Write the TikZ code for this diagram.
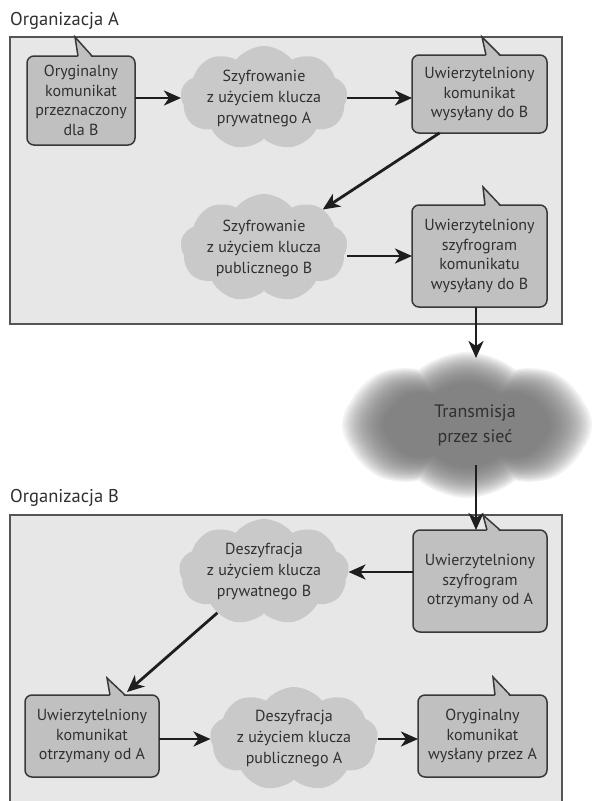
\documentclass[tikz,border=0pt]{standalone}
\usepackage{fontspec}
\setmainfont{PT Sans}
\usetikzlibrary{shapes.symbols,arrows.meta,calc}
\definecolor{boxfill}{HTML}{E7E7E7}
\definecolor{boxline}{HTML}{555555}
\definecolor{msgfill}{HTML}{C0C0C0}
\definecolor{msgline}{HTML}{383838}
\definecolor{cloudfill}{HTML}{C9C9C9}
\definecolor{txt}{HTML}{303030}
\definecolor{arrcol}{HTML}{1E1E1E}
\newcommand\callptr[4]{%
  \fill[msgfill] ($(#1.north west)+(#2,1.8)$) -- (#4) -- ($(#1.north west)+(#3,1.8)$) -- cycle;
  \draw[ptrline] ($(#1.north west)+(#2,0)$) -- (#4) -- ($(#1.north west)+(#3,0)$);}
\begin{document}
\begin{tikzpicture}[x=1pt,y=-1pt,
  orgbox/.style={draw=boxline, line width=1.6pt, fill=boxfill},
  orglabel/.style={anchor=base west, inner sep=0, text=txt, font=\fontsize{18.5}{22}\selectfont},
  msg/.style={draw=msgline, line width=1.5pt, fill=msgfill, rounded corners=7pt, align=center,
    text=txt, font=\fontsize{16}{19.5}\selectfont, inner sep=0, outer sep=0},
  ptrline/.style={draw=msgline, line width=1.5pt, line join=miter},
  lcloud/.style={cloud, cloud puffs=9, cloud puff arc=105, cloud ignores aspect, fill=cloudfill,
    draw=none, inner sep=0, outer sep=0},
  fcloud/.style={cloud, cloud puffs=8, cloud puff arc=80, cloud ignores aspect, fill=black!58,
    fill opacity=0.085, draw=none, inner sep=0, outer sep=0},
  ctext/.style={align=center, text=txt, font=\fontsize{16}{21}\selectfont, inner sep=0},
  ttext/.style={align=center, text=txt, font=\fontsize{18}{25}\selectfont, inner sep=0},
  arr/.style={draw=arrcol, line width=2.8pt, -{Stealth[length=17pt,width=15pt,inset=5pt]}}]
\useasboundingbox (0,0) rectangle (592,801);
\clip (0,0) rectangle (592,801);

% organisation boxes
\draw[orgbox] (10,37) rectangle (562,324);
\draw[orgbox] (10,515) rectangle (562,808);
\node[orglabel] (labA) at (10,25) {Organizacja A};
\node[orglabel] (labB) at (10,502) {Organizacja B};

% clouds
\node[lcloud, minimum width=167, minimum height=104] (c1) at (264,98) {};
\node[ctext] (c1t) at (c1.center) {Szyfrowanie\\z użyciem klucza\\prywatnego A};
\node[lcloud, minimum width=167, minimum height=108] (c2) at (264,248) {};
\node[ctext] (c2t) at (c2.center) {Szyfrowanie\\z użyciem klucza\\publicznego B};
\node[lcloud, minimum width=170, minimum height=106] (c3) at (264,572) {};
\node[ctext] (c3t) at (c3.center) {Deszyfracja\\z użyciem klucza\\prywatnego B};
\node[lcloud, minimum width=168, minimum height=104] (c4) at (294,739) {};
\node[ctext] (c4t) at (c4.center) {Deszyfracja\\z użyciem klucza\\publicznego A};

% transmission cloud (soft edges)
\foreach \i in {0,...,19} {
  \node[fcloud, minimum width=250-4.4*\i, minimum height=146-3.2*\i] at (467,425) {};
}
\node[ttext] (T) at (475,425) {Transmisja\\przez sieć};
\coordinate (tin) at (476,358);
\coordinate (tout) at (476,465);

% message boxes
\node[msg, minimum width=108, minimum height=89] (n1) at (81,100.5) {Oryginalny\\komunikat\\przeznaczony\\dla B};
\node[msg, minimum width=135, minimum height=78] (n2) at (479.5,94) {Uwierzytelniony\\komunikat\\wysyłany do B};
\node[msg, minimum width=135, minimum height=102] (n3) at (479.5,256) {Uwierzytelniony\\szyfrogram\\komunikatu\\wysyłany do B};
\node[msg, minimum width=134, minimum height=102] (n4) at (480,581) {Uwierzytelniony\\szyfrogram\\otrzymany od A};
\node[msg, minimum width=134, minimum height=82] (n5) at (92,736) {Uwierzytelniony\\komunikat\\otrzymany od A};
\node[msg, minimum width=129, minimum height=82] (n6) at (482.5,736) {Oryginalny\\komunikat\\wysłany przez A};

% callout pointers
\coordinate (p1) at (75,37);
\coordinate (p2) at (482,37);
\coordinate (p3) at (483,187);
\coordinate (p4) at (483,515);
\coordinate (p5) at (107,678);
\coordinate (p6) at (493,677);
\callptr{n1}{51}{65}{p1}
\callptr{n2}{74}{88}{p2}
\callptr{n3}{73}{88}{p3}
\callptr{n4}{74}{87}{p4}
\callptr{n5}{85}{100}{p5}
\callptr{n6}{77}{92}{p6}

% connectors
\coordinate (d1) at ($(n2.south)+(-40,0)$);
\coordinate (d2) at ($(n5.north)+(35,-3)$);
\draw[arr] (n1.east |- c1.west) -- (c1.west);
\draw[arr] (c1.east) -- (c1.east -| n2.west);
\draw[arr] (d1) -- (c2);
\draw[arr] (c2.east |- n3.west) -- (n3.west);
\draw[arr] (tin |- n3.south) -- (tin);
\draw[arr] (tout) -- (tout |- n4.north);
\draw[arr] (n4.west |- c3.east) -- (c3.east);
\draw[arr] (c3) -- (d2);
\draw[arr] (n5.east |- c4.west) -- (c4.west);
\draw[arr] (c4.east) -- (c4.east -| n6.west);
\end{tikzpicture}
\end{document}
